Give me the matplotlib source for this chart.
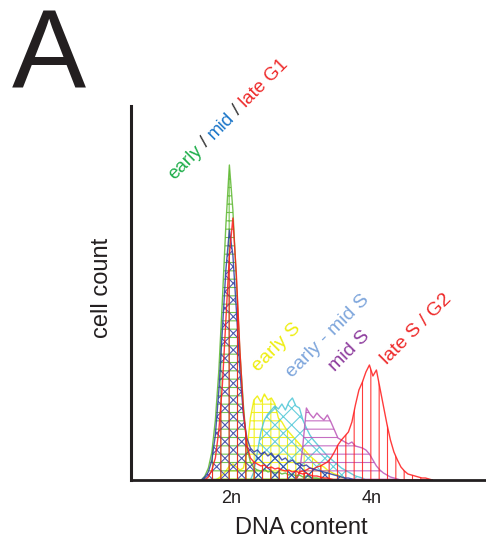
import numpy as np
import matplotlib
matplotlib.use("Agg")
import matplotlib.pyplot as plt

plt.rcParams['font.family'] = ['Liberation Sans', 'DejaVu Sans']
plt.rcParams['hatch.linewidth'] = 0.8

# bin width of the DNA-content histograms (2n = 2, 4n = 4)
bin_w = 0.05

# heights of each histogram, starting at the given left edge
green_start = 1.60   # early G1
green = [4, 12, 28, 60, 110, 180, 255, 315, 270, 200, 128, 75, 33, 18, 12,
         10, 9, 11, 8, 9, 7, 8, 6, 7, 5, 6, 4, 5, 3, 4, 3, 2, 2, 1, 1]
blue_start = 1.60    # mid G1
blue = [3, 8, 20, 45, 90, 150, 210, 250, 225, 170, 110, 65, 42, 32, 28,
        30, 26, 28, 24, 27, 22, 25, 20, 22, 18, 20, 16, 17, 14, 15, 12, 11,
        10, 9, 8, 7, 6, 5, 4, 3, 2, 2, 1]
red_start = 1.65     # late G1
red = [3, 10, 22, 50, 95, 160, 225, 262, 205, 130, 70, 35, 22, 18,
       16, 14, 15, 12, 13, 11, 12, 10, 9, 10, 8, 9, 7, 6, 7, 5, 4, 4, 3, 2, 2, 1]
yellow_start = 1.80  # early S
yellow = [2, 5, 9, 14, 16, 13, 10, 12, 28, 62, 80, 84, 78, 86, 80, 82, 76, 62,
          58, 52, 48, 44, 40, 36, 32, 28, 24, 21, 18, 15, 13, 10, 8, 6, 5, 3, 2]
cyan_start = 2.30    # early - mid S
cyan = [8, 28, 48, 60, 66, 70, 74, 71, 76, 70, 78, 82, 74, 72, 60, 52, 45, 40,
        36, 32, 28, 24, 21, 18, 15, 12, 10, 8, 6, 4, 3, 2]
purple_start = 2.95  # mid S
purple = [6, 35, 72, 66, 62, 67, 63, 60, 65, 58, 50, 42, 40, 38, 36, 38, 34, 33,
          32, 30, 26, 20, 14, 10, 7, 5, 3, 2, 1]
g2_start = 2.95      # late S / G2
g2 = [8, 9, 10, 12, 11, 13, 14, 16, 18, 22, 28, 35, 40, 44, 48, 58, 75, 90, 98,
      108, 115, 104, 110, 92, 74, 56, 40, 28, 20, 13, 9, 6, 5, 4, 3, 2, 2, 1]

tick_pos = [2, 4]
tick_labels = ['2n', '4n']

fig = plt.figure(figsize=(4.86, 5.47), dpi=100)
W, H = 486, 547
ax = fig.add_axes([131 / W, 67 / H, 355 / W, 374 / H])

series = [
    (yellow_start, yellow, '#eeee00', '++'),
    (cyan_start, cyan, '#4cc6d6', 'xx'),
    (purple_start, purple, '#bb55b8', '--'),
    (g2_start, g2, '#ff1a1a', '||'),
    (green_start, green, '#5db830', '++'),
    (blue_start, blue, '#2f3fa3', 'xx'),
    (red_start, red, '#ff1a1a', '||'),
]
for start, vals, col, hatch in series:
    # frequency polygon through the bin centres, closed at zero on both ends
    xs = start + bin_w * (np.arange(len(vals) + 2) - 0.5)
    ys = np.concatenate([[0], vals, [0]])
    ax.fill_between(xs, ys, 0, facecolor='none', edgecolor=col,
                    hatch=hatch, lw=1.0, alpha=0.85)

ax.set_xlim(0.57, 5.64)
ax.set_ylim(0, 374)
ax.spines['top'].set_visible(False)
ax.spines['right'].set_visible(False)
ax.spines['left'].set_linewidth(2.2)
ax.spines['bottom'].set_linewidth(2.0)
ax.spines['left'].set_color('#231f20')
ax.spines['bottom'].set_color('#231f20')
ax.set_yticks([])
ax.set_xticks(tick_pos, tick_labels)
ax.tick_params(axis='x', length=0, pad=7, labelsize=13, labelcolor='#231f20')


def px(x, y):
    return x / W, 1 - y / H


fig.text(*px(12, 87), 'A', fontsize=80, color='#231f20', ha='left', va='baseline')
fig.text(*px(301, 528), 'DNA content', fontsize=17, color='#231f20',
         ha='center', va='center')
fig.text(*px(102, 288), 'cell count', fontsize=17, color='#231f20',
         ha='center', va='center', rotation=90)

# phase labels at 45 degrees
fig.text(*px(258, 372), 'early S', fontsize=14, color='#eeee11', rotation=45,
         rotation_mode='anchor', ha='left', va='baseline')
fig.text(*px(292, 378), 'early - mid S', fontsize=14, color='#7ea6dc', rotation=45,
         rotation_mode='anchor', ha='left', va='baseline')
fig.text(*px(335, 372), 'mid S', fontsize=14, color='#8e3d9e', rotation=45,
         rotation_mode='anchor', ha='left', va='baseline')
fig.text(*px(387, 365), 'late S / G2', fontsize=14, color='#ee2a2a', rotation=45,
         rotation_mode='anchor', ha='left', va='baseline')

# multicolour G1 label, pieces laid one after another along the 45 degree line
pieces = [('early', '#1fae4b'), (' / ', '#333333'), ('mid', '#1a75c8'),
          (' / ', '#333333'), ('late G1', '#ee2a2a')]
renderer = fig.canvas.get_renderer()


def text_w(s):
    t = fig.text(0, 0, s + 'l', fontsize=13.5)
    w = t.get_window_extent(renderer).width
    t.remove()
    t = fig.text(0, 0, 'l', fontsize=13.5)
    w -= t.get_window_extent(renderer).width
    t.remove()
    return w


x0, y0 = 174, 180
prefix = ''
c45 = np.cos(np.radians(45))
for s, col in pieces:
    off = text_w(prefix) if prefix else 0.0
    fig.text(*px(x0 + off * c45, y0 - off * c45), s, fontsize=13.5, color=col,
             rotation=45, rotation_mode='anchor', ha='left', va='baseline')
    prefix += s

fig.savefig('out.png', dpi=100)
